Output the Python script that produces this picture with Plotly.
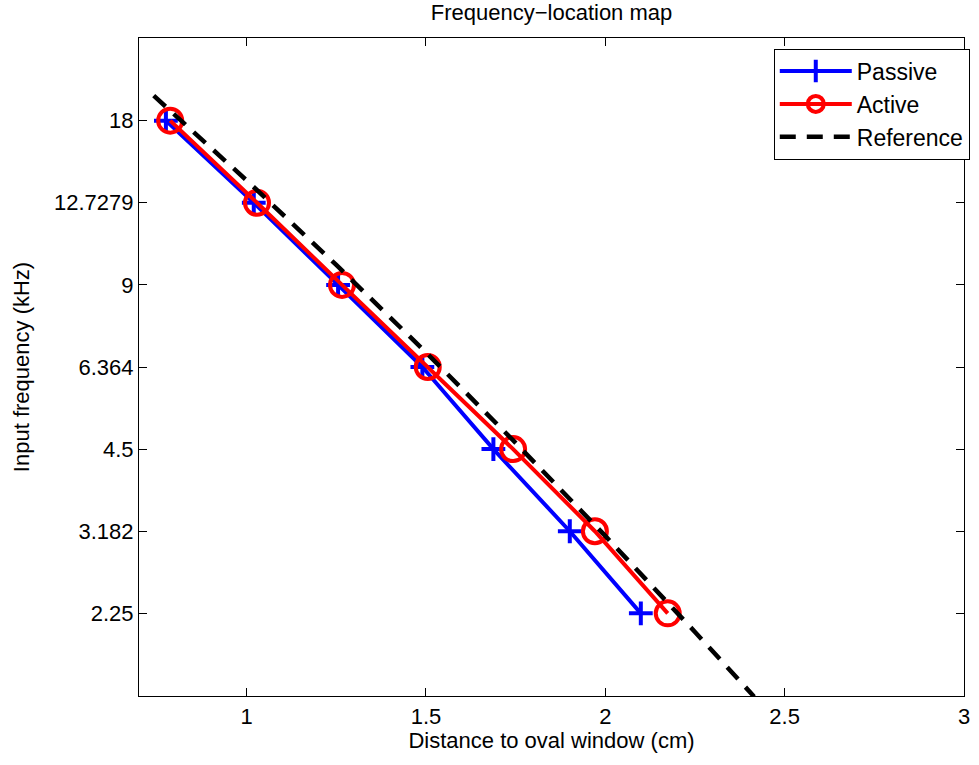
import plotly.graph_objects as go

freq = [18, 12.7279, 9, 6.364, 4.5, 3.182, 2.25]
passive_x = [0.775, 1.02, 1.255, 1.49, 1.688, 1.901, 2.099]
active_x = [0.787, 1.029, 1.266, 1.505, 1.743, 1.971, 2.174]
ref_x = [0.741, 1.0, 1.25, 1.5, 1.75, 2.0, 2.25, 2.415]
ref_y = [20.0, 13.99, 9.79, 6.77, 4.62, 3.12, 2.08, 1.583]
y_ticks = [2.25, 3.182, 4.5, 6.364, 9, 12.7279, 18]
y_labels = ["2.25", "3.182", "4.5", "6.364", "9", "12.7279", "18"]
x_ticks = [1, 1.5, 2, 2.5, 3]
x_labels = ["1", "1.5", "2", "2.5", "3"]

FONT = "Liberation Sans, Arial, Helvetica, sans-serif"

fig = go.Figure()
fig.add_trace(go.Scatter(x=passive_x, y=freq, mode="lines+markers", name="Passive",
                         line=dict(color="#0000ff", width=4),
                         marker=dict(symbol="cross-thin-open", size=17,
                                     line=dict(color="#0000ff", width=4))))
fig.add_trace(go.Scatter(x=active_x, y=freq, mode="lines+markers", name="Active",
                         line=dict(color="#ff0000", width=4),
                         marker=dict(symbol="circle-open", size=24, color="#ff0000",
                                     line=dict(color="#ff0000", width=4))))
fig.add_trace(go.Scatter(x=ref_x, y=ref_y, mode="lines", name="Reference",
                         line=dict(color="black", width=4.5, dash="16px,11px")))

fig.update_layout(
    width=979, height=765,
    margin=dict(l=139, r=9, t=38, b=69),
    paper_bgcolor="white", plot_bgcolor="white",
    font=dict(family=FONT, size=22, color="black"),
    title=dict(text="Frequency\u2212location map", x=0.5, xref="paper", xanchor="center",
               y=1 - 12 / 765, yanchor="middle", font=dict(size=22)),
    showlegend=True,
    legend=dict(x=1.007, xanchor="right", y=0.984, yanchor="top",
                bgcolor="white", bordercolor="black", borderwidth=1,
                font=dict(size=23), tracegroupgap=0, itemwidth=72),
)
fig.update_xaxes(range=[0.7, 3], tickvals=x_ticks, ticktext=x_labels,
                 ticks="inside", ticklen=8, tickcolor="black", tickwidth=1,
                 showline=True, linecolor="black", linewidth=1.2, mirror="ticks",
                 showgrid=False, zeroline=False, tickfont=dict(size=22),
                 title=dict(text="Distance to oval window (cm)", font=dict(size=22), standoff=4))
fig.update_yaxes(type="log", range=[0.20067, 1.40679], tickvals=y_ticks, ticktext=y_labels,
                 ticks="inside", ticklen=8, tickcolor="black", tickwidth=1,
                 showline=True, linecolor="black", linewidth=1.2, mirror="ticks",
                 showgrid=False, zeroline=False, tickfont=dict(size=22),
                 title=dict(text="Input frequency (kHz)", font=dict(size=22), standoff=18))

fig.write_html("out.html")
